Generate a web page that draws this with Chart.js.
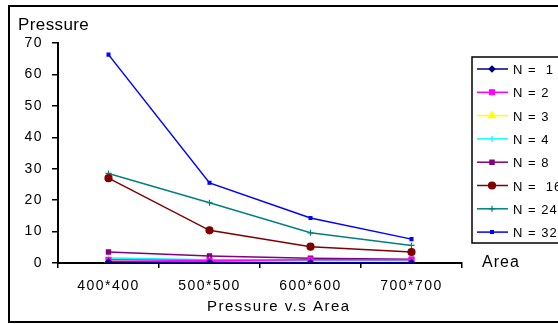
<!DOCTYPE html>
<html>
<head>
<meta charset="utf-8">
<script src="https://cdn.jsdelivr.net/npm/chart.js@4.4.1/dist/chart.umd.min.js"></script>
<style>
html,body{margin:0;padding:0;background:#fff;}
#wrap{width:558px;height:324px;position:relative;}
canvas{display:block;}
</style>
</head>
<body>
<div id="wrap"><canvas id="c" width="558" height="324"></canvas></div>
<script>
// ---- data ----
const categories = ['400*400', '500*500', '600*600', '700*700'];
const seriesLabels = ['N =  1', 'N = 2', 'N = 3', 'N = 4', 'N = 8', 'N =  16', 'N = 24', 'N = 32'];
const n1  = [0.3, 0.2, 0.1, 0.1];
const n2  = [1.0, 0.8, 1.0, 1.0];
const n3  = [0.6, 0.4, 0.2, 0.2];
const n4  = [1.6, 1.0, 0.8, 0.8];
const n8  = [3.5, 2.2, 1.5, 1.2];
const n16 = [27, 10.4, 5.2, 3.5];
const n24 = [28.5, 19.2, 9.6, 5.6];
const n32 = [66.3, 25.5, 14.3, 7.6];
const yTicks = [0, 10, 20, 30, 40, 50, 60, 70];

const seriesValues = [n1, n2, n3, n4, n8, n16, n24, n32];
const colors = ['#000080', '#FF00FF', '#FFFF00', '#00FFFF', '#800080', '#800000', '#008080', '#0000FF'];
const pStyles = ['rectRot', 'rect', 'triangle', 'line', 'rect', 'circle', 'cross', 'rect'];
const pRadius = [3, 3.5, 4, 3, 3, 3.5, 3, 2];

const datasets = seriesValues.map((vals, i) => ({
  label: seriesLabels[i],
  data: vals,
  borderColor: colors[i],
  backgroundColor: colors[i],
  borderWidth: 1.5,
  pointStyle: pStyles[i],
  pointRadius: pRadius[i],
  pointBorderWidth: 1.2,
  pointRotation: pStyles[i] === 'line' ? 90 : 0,
  tension: 0
}));

const FONT = '"Liberation Sans", Arial, sans-serif';

const spacing = {
  id: 'spacing',
  beforeDraw(chart) { chart.ctx.letterSpacing = '1.5px'; }
};

const decor = {
  id: 'decor',
  afterDraw(chart) {
    const ctx = chart.ctx;
    ctx.save();
    // outer frame
    ctx.strokeStyle = '#000';
    ctx.lineWidth = 2;
    ctx.strokeRect(9, 6, 560, 316);
    // texts
    ctx.fillStyle = '#000';
    ctx.textBaseline = 'alphabetic';
    ctx.textAlign = 'left';
    ctx.letterSpacing = '0.4px';
    ctx.font = '17px ' + FONT;
    ctx.fillText('Pressure', 18, 30);
    ctx.letterSpacing = '1px';
    ctx.font = '16px ' + FONT;
    ctx.fillText('Area', 482, 267);
    ctx.letterSpacing = '1.5px';
    ctx.font = '15px ' + FONT;
    ctx.fillText('Pressure v.s Area', 207, 311);
    // legend box
    ctx.strokeStyle = '#000';
    ctx.lineWidth = 1.5;
    ctx.strokeRect(472, 57, 100, 186);
    chart.data.datasets.forEach((ds, i) => {
      const y = 69 + i * 23.3;
      ctx.strokeStyle = ds.borderColor;
      ctx.lineWidth = 1.5;
      ctx.beginPath();
      ctx.moveTo(477, y);
      ctx.lineTo(508, y);
      ctx.stroke();
      if (Chart.helpers && Chart.helpers.drawPoint) {
        ctx.fillStyle = ds.backgroundColor;
        ctx.strokeStyle = ds.borderColor;
        ctx.lineWidth = 1.2;
        Chart.helpers.drawPoint(ctx, {pointStyle: ds.pointStyle, radius: ds.pointRadius, rotation: ds.pointRotation, borderWidth: 1.2}, 492, y);
      }
      ctx.fillStyle = '#000';
      ctx.font = '13px ' + FONT;
      ctx.letterSpacing = '1px';
      ctx.textAlign = 'left';
      ctx.textBaseline = 'alphabetic';
      ctx.fillText(ds.label, 513, y + 5);
    });
    ctx.restore();
  }
};

new Chart(document.getElementById('c'), {
  type: 'line',
  data: { labels: categories, datasets },
  options: {
    responsive: false,
    animation: false,
    layout: { padding: { left: 0, right: 96, top: 43, bottom: 0 } },
    plugins: { legend: { display: false }, tooltip: { enabled: false }, title: { display: false } },
    scales: {
      x: {
        offset: true,
        afterFit(s) { s.height = 61; },
        grid: { offset: true, drawOnChartArea: false, drawTicks: true, tickLength: 5, color: '#000', lineWidth: 1.5 },
        border: { display: true, color: '#000', width: 2 },
        ticks: { color: '#000', font: { family: FONT, size: 14 }, padding: 10, maxRotation: 0 }
      },
      y: {
        min: 0, max: 70,
        afterFit(s) { s.width = 58; },
        afterBuildTicks(s) { s.ticks = yTicks.map(v => ({ value: v })); },
        grid: { drawOnChartArea: false, drawTicks: true, tickLength: 6, color: '#000', lineWidth: 1.5 },
        border: { display: true, color: '#000', width: 2 },
        ticks: { color: '#000', font: { family: FONT, size: 14 }, padding: 9 }
      }
    }
  },
  plugins: [spacing, decor]
});
</script>
</body>
</html>
